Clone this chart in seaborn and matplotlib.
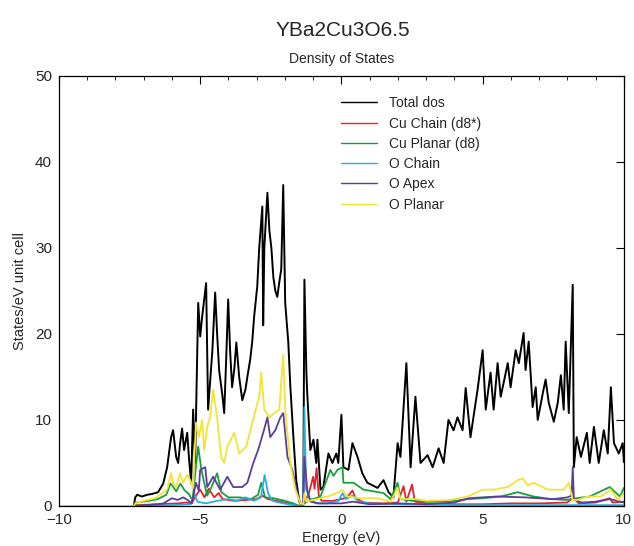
import numpy as np
import pandas as pd
import matplotlib
matplotlib.use('Agg')
import matplotlib.pyplot as plt
from matplotlib.ticker import MultipleLocator
import seaborn as sns

# total density of states
total_e = [-10.0, -7.35, -7.30, -7.23, -7.06, -6.88, -6.70, -6.49, -6.31, -6.17, -6.03, -5.96, -5.85, -5.78,
           -5.71, -5.64, -5.57, -5.46, -5.39, -5.32, -5.25, -5.18, -5.07, -5.00, -4.93, -4.79, -4.72, -4.57,
           -4.47, -4.40, -4.33, -4.22, -4.15, -4.08, -4.01, -3.94, -3.87, -3.79, -3.72, -3.62, -3.51, -3.40,
           -3.33, -3.23, -3.16, -3.09, -2.98, -2.91, -2.80, -2.77, -2.73, -2.62, -2.55, -2.48, -2.41, -2.34,
           -2.27, -2.20, -2.13, -2.06, -1.99, -1.88, -1.81, -1.70, -1.60, -1.49, -1.42, -1.35, -1.31, -1.24,
           -1.21, -1.10, -0.99, -0.89, -0.85, -0.74, -0.64, -0.46, -0.32, -0.18, -0.11, 0.00, 0.07, 0.25,
           0.39, 0.57, 0.74, 0.92, 1.28, 1.49, 1.67, 1.84, 1.99, 2.09, 2.30, 2.45, 2.62, 2.80, 3.05, 3.23,
           3.44, 3.62, 3.79, 3.97, 4.11, 4.29, 4.40, 4.57, 4.82, 5.00, 5.11, 5.28, 5.39, 5.53, 5.64, 5.89,
           5.99, 6.17, 6.28, 6.45, 6.52, 6.63, 6.77, 6.88, 6.95, 7.13, 7.23, 7.34, 7.52, 7.66, 7.77, 7.87,
           7.94, 8.05, 8.19, 8.23, 8.33, 8.48, 8.69, 8.79, 8.94, 9.11, 9.29, 9.43, 9.54, 9.65, 9.82, 9.96, 10.0]
total_dos = [0, 0, 1.0, 1.3, 1.1, 1.3, 1.4, 1.6, 2.6, 4.5, 8.0, 8.8, 5.7, 5.0,
             7.3, 9.0, 6.5, 8.5, 5.3, 2.7, 11.2, 5.0, 23.6, 19.7, 22.0, 25.9, 11.2, 18.0,
             24.8, 20.0, 15.8, 13.0, 10.8, 17.0, 24.0, 18.0, 13.8, 16.0, 19.0, 15.0, 12.3, 13.5,
             15.0, 17.0, 19.0, 22.0, 25.5, 30.0, 34.8, 21.0, 30.0, 36.4, 32.0, 30.0, 26.6, 25.0,
             24.3, 26.0, 27.5, 37.3, 23.6, 19.0, 14.0, 8.0, 3.0, 0.5, 0.2, 0.3, 26.3, 15.5,
             13.1, 6.5, 7.7, 5.0, 7.7, 1.9, 2.2, 6.1, 5.0, 6.1, 5.0, 10.6, 4.5, 4.2,
             7.3, 5.7, 3.8, 2.7, 2.1, 3.0, 1.6, 1.0, 7.3, 5.7, 16.6, 4.5, 12.7, 5.0, 5.9, 4.5,
             6.7, 5.0, 10.0, 8.8, 10.3, 8.8, 13.7, 8.0, 13.5, 18.1, 11.2, 15.5, 11.2, 16.6, 12.7, 16.6,
             13.8, 18.1, 16.6, 20.1, 15.8, 19.1, 11.5, 13.8, 10.0, 13.1, 14.7, 12.0, 9.8, 12.0, 15.2, 11.2,
             19.1, 10.8, 25.7, 4.5, 8.0, 5.7, 8.5, 5.0, 9.2, 5.0, 8.8, 6.1, 13.8, 7.3, 6.1, 7.3, 5.1]

cu_chain_e = [-10.0, -7.3, -7.2, -6.5, -5.8, -5.5, -5.3, -5.15, -5.0, -4.85, -4.7, -4.5, -4.35, -4.2, -3.8,
              -3.4, -3.0, -2.8, -2.6, -2.3, -2.0, -1.7, -1.5, -1.31, -1.15, -1.0, -0.95, -0.88, -0.80, -0.7,
              -0.3, 0.0, 0.2, 0.39, 0.5, 0.8, 1.5, 2.0, 2.2, 2.3, 2.5, 2.6, 3.0, 4.0, 5.0, 6.0, 7.0, 8.0,
              8.2, 8.4, 9.0, 9.5, 9.6, 10.0]
cu_chain_dos = [0, 0, 0.1, 0.2, 0.3, 0.4, 0.3, 1.2, 1.9, 1.0, 2.0, 1.0, 1.5, 0.8, 0.6,
                0.7, 0.8, 1.2, 0.8, 0.6, 0.4, 0.2, 0.0, 0.4, 1.5, 3.4, 2.0, 4.4, 1.2, 0.6,
                0.6, 0.8, 1.0, 1.8, 0.9, 0.4, 0.3, 0.4, 2.3, 0.5, 2.5, 0.5, 0.3, 0.2, 0.2, 0.3, 0.3, 0.4,
                1.0, 0.3, 0.4, 0.9, 0.4, 0.5]

cu_planar_e = [-10.0, -7.3, -7.25, -6.8, -6.5, -6.2, -6.05, -5.95, -5.85, -5.7, -5.55, -5.4, -5.27, -5.17,
               -5.07, -4.97, -4.88, -4.75, -4.6, -4.4, -4.25, -4.0, -3.6, -3.2, -2.95, -2.84, -2.7, -2.4,
               -2.0, -1.7, -1.5, -1.31, -1.1, -0.74, -0.39, -0.28, -0.14, 0.04, 0.07, 0.43, 0.78, 1.49,
               1.74, 1.99, 2.09, 2.5, 3.0, 3.5, 4.0, 4.5, 5.0, 5.64, 6.24, 6.81, 7.41, 7.98, 8.33, 8.79,
               9.5, 9.86, 10.0]
cu_planar_dos = [0, 0, 0.4, 0.6, 0.8, 1.3, 2.6, 2.2, 1.7, 2.6, 1.8, 1.4, 0.6, 4.0,
                 6.9, 4.5, 3.0, 1.2, 2.2, 3.8, 1.6, 1.0, 1.0, 0.8, 1.3, 2.7, 1.0, 0.9,
                 0.6, 0.3, 0.0, 0.3, 0.7, 1.1, 4.2, 3.5, 4.2, 4.5, 2.7, 2.7, 1.9, 1.5,
                 0.8, 2.7, 0.8, 0.6, 0.5, 0.5, 0.6, 0.8, 0.9, 1.1, 1.6, 1.1, 0.8, 0.7, 0.9, 1.1,
                 2.2, 1.1, 2.1]

o_chain_e = [-10.0, -7.3, -6.0, -5.35, -5.2, -5.1, -4.8, -4.4, -4.0, -3.7, -3.4, -3.1, -2.85, -2.72,
             -2.6, -2.45, -2.2, -1.9, -1.5, -1.35, -1.31, -1.25, -1.15, -0.9, -0.5, -0.1, 0.04, 0.15,
             0.4, 0.6, 1.0, 2.0, 4.0, 6.0, 8.0, 10.0]
o_chain_dos = [0, 0, 0.1, 0.2, 1.4, 0.5, 0.3, 0.6, 0.8, 0.6, 1.0, 0.6, 1.0, 3.6,
               1.5, 0.6, 0.4, 0.2, 0.0, 0.1, 11.5, 2.0, 1.0, 0.3, 0.3, 0.6, 1.5, 0.8,
               1.2, 0.5, 0.3, 0.2, 0.1, 0.1, 0.1, 0.1]

o_apex_e = [-10.0, -7.3, -6.5, -6.3, -6.0, -5.8, -5.6, -5.45, -5.3, -5.15, -5.05, -5.0, -4.82, -4.75,
            -4.54, -4.29, -4.04, -3.83, -3.51, -3.33, -3.12, -2.95, -2.77, -2.62, -2.52, -2.34, -2.16,
            -2.06, -1.91, -1.74, -1.56, -1.45, -1.35, -1.31, -1.21, -1.10, -0.8, 0.0, 0.4, 1.0, 2.0,
            3.0, 4.0, 4.5, 5.5, 6.5, 7.5, 8.0, 8.15, 8.19, 8.23, 8.5, 9.0, 9.5, 10.0]
o_apex_dos = [0, 0, 0.2, 0.3, 0.9, 0.7, 1.0, 0.7, 0.3, 2.7, 1.8, 4.2, 4.5, 2.2,
              3.4, 1.9, 3.4, 2.2, 2.2, 2.7, 5.0, 6.5, 8.5, 10.3, 8.0, 8.8, 10.3,
              10.8, 5.7, 4.2, 1.5, 0.3, 0.1, 5.7, 1.9, 0.5, 0.3, 0.3, 0.5, 0.2, 0.3,
              0.2, 0.4, 0.9, 1.1, 1.0, 0.8, 1.0, 1.2, 4.5, 0.8, 0.4, 0.5, 0.8, 0.4]

o_planar_e = [-10.0, -7.35, -7.30, -7.0, -6.6, -6.3, -6.17, -6.03, -5.96, -5.85, -5.71, -5.60, -5.46,
              -5.35, -5.25, -5.15, -5.05, -4.93, -4.86, -4.75, -4.65, -4.54, -4.40, -4.33, -4.26, -4.15,
              -4.04, -3.79, -3.62, -3.37, -3.16, -2.91, -2.84, -2.73, -2.55, -2.38, -2.20, -2.06, -1.99,
              -1.81, -1.63, -1.45, -1.35, -1.31, -1.24, -1.0, -0.50, -0.14, 0.04, 0.21, 0.67, 1.28, 1.74,
              1.99, 2.09, 2.70, 3.0, 3.86, 4.47, 5.0, 5.39, 5.89, 6.24, 6.42, 6.60, 6.81, 7.30, 7.87,
              8.05, 8.19, 8.37, 8.72, 9.18, 9.54, 9.79, 10.0]
o_planar_dos = [0, 0, 0.3, 0.6, 0.9, 1.6, 1.9, 3.8, 2.7, 2.2, 3.8, 2.7, 3.6,
                3.0, 2.1, 9.7, 8.0, 10.0, 6.5, 9.2, 10.3, 13.5, 10.3, 8.0, 5.7, 5.0,
                6.9, 8.5, 6.1, 6.9, 9.6, 12.7, 15.5, 11.2, 10.3, 10.8, 11.2, 17.6, 11.2,
                5.0, 1.9, 0.3, 0.2, 1.5, 0.5, 0.7, 1.1, 1.5, 1.9, 1.1, 0.9, 0.9, 0.5,
                2.1, 0.8, 0.8, 0.6, 0.7, 1.1, 1.9, 1.9, 2.2, 3.0, 3.2, 2.4, 2.7, 1.9, 1.9,
                2.7, 0.7, 0.7, 1.1, 1.1, 1.9, 0.7, 1.5]

series = [
    ('Total dos', total_e, total_dos, '#000000', 1.4),
    ('Cu Chain (d8*)', cu_chain_e, cu_chain_dos, '#e3222c', 1.3),
    ('Cu Planar (d8)', cu_planar_e, cu_planar_dos, '#16a13c', 1.3),
    ('O Chain', o_chain_e, o_chain_dos, '#27afe2', 1.3),
    ('O Apex', o_apex_e, o_apex_dos, '#5b3d9c', 1.3),
    ('O Planar', o_planar_e, o_planar_dos, '#f4e334', 1.3),
]

sns.set_style('white')
plt.rcParams['font.family'] = ['Liberation Sans', 'DejaVu Sans']

fig = plt.figure(figsize=(6.34, 5.46), dpi=100)
ax = fig.add_axes([0.093, 0.0733, 0.891, 0.788])

for name, e, d, col, lw in series:
    sns.lineplot(x=e, y=d, ax=ax, color=col, linewidth=lw, label=name, sort=False, estimator=None)

ax.set_xlim(-10, 10)
ax.set_ylim(0, 50)
ax.xaxis.set_major_locator(MultipleLocator(5))
ax.xaxis.set_minor_locator(MultipleLocator(1))
ax.yaxis.set_major_locator(MultipleLocator(10))
ax.tick_params(which='both', direction='in', top=True, right=True, labelsize=11, color='black')
ax.tick_params(which='major', length=6, width=0.8, pad=5)
ax.tick_params(which='minor', length=3, width=0.6)
for s in ax.spines.values():
    s.set_color('black')
    s.set_linewidth(0.9)

ax.set_xlabel('Energy (eV)', fontsize=10.5, labelpad=3)
ax.set_ylabel('States/eV unit cell', fontsize=10.5, labelpad=6)
ax.set_title('Density of States', fontsize=10, pad=9)
fig.text(0.54, 0.945, 'YBa2Cu3O6.5', ha='center', va='center', fontsize=15)

leg = ax.legend(loc='upper left', bbox_to_anchor=(0.49, 0.965), frameon=False, fontsize=10,
                handlelength=2.6, handletextpad=0.8, labelspacing=0.45, borderaxespad=0)
for h in leg.get_lines():
    h.set_linewidth(1.0)

fig.savefig('out.png', dpi=100)
